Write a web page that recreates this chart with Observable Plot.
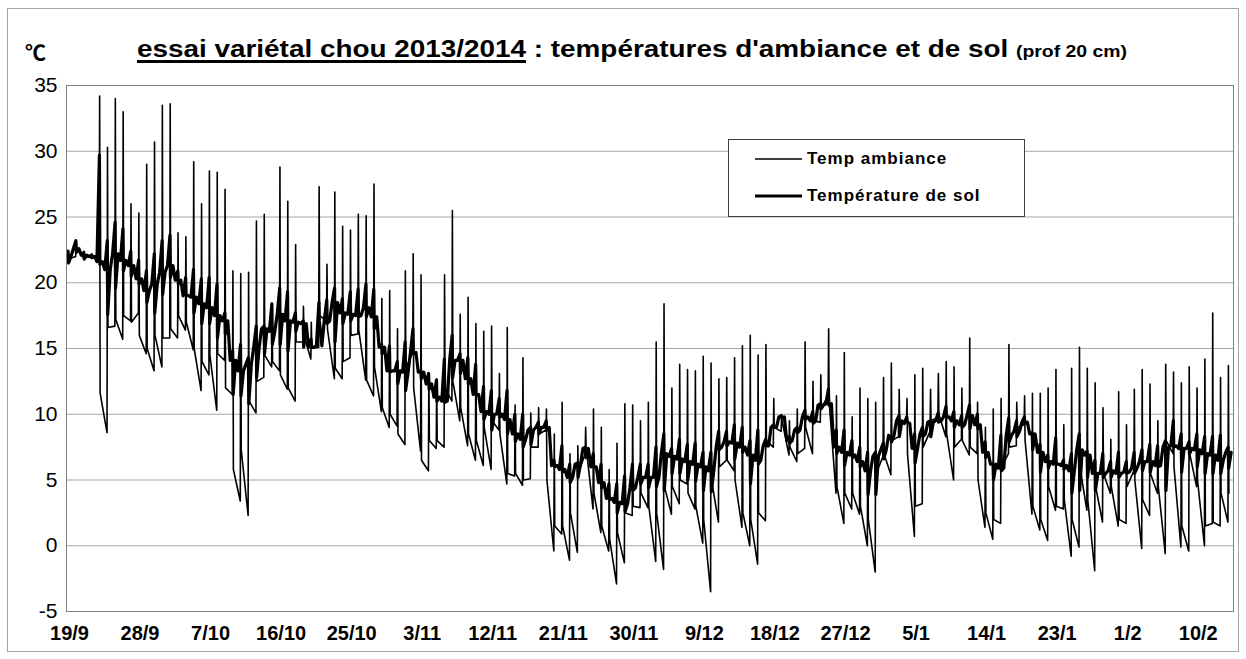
<!DOCTYPE html>
<html><head><meta charset="utf-8">
<script src="https://cdn.jsdelivr.net/npm/d3@7"></script>
<script src="https://cdn.jsdelivr.net/npm/@observablehq/plot@0.6"></script>
<style>
html,body{margin:0;padding:0;background:#fff;}
#wrap{position:relative;width:1246px;height:659px;overflow:hidden;font-family:"Liberation Sans",Arial,sans-serif;}
#border{position:absolute;left:7px;top:8px;width:1232px;height:644px;border:1px solid #a6a6a6;box-sizing:border-box;}
#plot{position:absolute;left:0;top:0;}
#title{position:absolute;left:137px;top:37px;white-space:nowrap;font-weight:bold;font-size:23px;line-height:24px;transform-origin:0 0;}
#title u{text-decoration-thickness:3px;text-underline-offset:3px;}
#title small{font-size:16px;}
#unit{position:absolute;left:25px;top:40px;font-size:21px;font-weight:bold;line-height:22px;font-family:"Noto Sans CJK SC","DejaVu Sans",sans-serif;}
#legend{position:absolute;left:728px;top:139px;width:297px;height:78px;border:1px solid #404040;background:#fff;box-sizing:border-box;}
.lg{position:absolute;left:0;height:20px;display:flex;align-items:center;font-weight:bold;font-size:17px;white-space:nowrap;}
.lg svg{margin-left:26px;margin-right:5px;}
</style></head>
<body>
<div id="wrap">
  <div id="border"></div>
  <div id="plot"></div>
  <div id="title"><u>essai variétal chou 2013/2014</u> : températures d'ambiance et de sol <small>(prof 20 cm)</small></div>
  <div id="unit">℃</div>
  <div id="legend"></div>
</div>
<script>
// day 0 = 19/9/2013 ... day 148 = 14/2/2014
const tickDays   = [0, 9, 18, 27, 36, 45, 54, 63, 72, 81, 90, 99, 108, 117, 126, 135, 144];
const tickLabels = ["19/9","28/9","7/10","16/10","25/10","3/11","12/11","21/11","30/11","9/12","18/12","27/12","5/1","14/1","23/1","1/2","10/2"];
const yTicks = [-5, 0, 5, 10, 15, 20, 25, 30, 35];

// Temp ambiance : daily low, daily high, value after the afternoon drop
const ambMin = [21.6,22.0,21.9,21.9,
 22.0,8.6,16.7,15.7,17.1,17.7,
 14.6,13.3,13.6,15.8,15.8,16.4,14.9,11.8,13.0,10.3,
 14.1,11.5,3.4,2.3,10.1,12.8,13.6,13.3,11.9,11.0,
 15.5,14.2,15.1,17.1,12.7,12.7,14.3,16.1,12.6,11.4,
 10.2,9.0,9.1,7.7,14.7,7.2,5.7,7.4,7.5,11.0,
 9.5,7.6,6.5,6.1,5.8,8.8,4.7,5.3,4.6,5.1,
 7.5,8.8,-0.4,0.9,-1.1,-0.5,7.0,2.8,1.0,-0.4,
 -2.9,-1.3,2.3,2.9,2.9,-1.2,-1.8,2.4,3.2,4.7,
 2.8,0.2,-3.5,1.8,6.5,5.7,1.4,0.0,-1.4,1.9,
 7.5,8.7,6.9,6.4,7.4,7.0,9.4,11.4,4.0,1.7,
 2.8,2.4,0.0,-2.0,6.8,5.4,8.3,9.5,0.7,3.2,
 8.7,9.8,8.3,5.0,8.1,6.9,7.0,1.4,0.5,1.7,
 7.0,7.6,9.2,2.4,1.2,0.4,2.7,2.8,-0.8,-0.1,
 2.7,-1.9,1.8,4.0,1.5,1.7,5.7,-0.2,2.3,4.0,
 -0.6,7.0,-0.1,-0.4,4.5,0.0,1.7,1.5,1.8];
const ambMax = [22.3,23.2,22.4,22.2,
 34.2,30.3,34.0,33.0,26.0,25.3,
 29.0,30.7,33.5,33.6,23.8,23.5,29.2,26.0,28.5,28.4,
 27.1,20.9,20.7,20.8,24.7,25.2,18.4,28.8,26.2,22.9,
 18.2,17.0,27.3,21.4,26.9,24.3,24.0,25.2,25.1,27.5,
 18.8,19.4,16.5,20.9,22.2,20.6,13.1,12.7,20.6,25.5,
 17.6,18.9,16.9,16.3,16.7,13.1,16.6,10.7,14.3,10.1,
 10.5,10.4,8.5,10.9,7.0,7.6,9.0,10.4,9.0,5.8,
 7.8,10.8,10.7,9.5,10.9,15.5,18.4,12.0,13.8,13.4,
 13.3,14.4,13.9,12.7,12.8,14.3,15.2,16.0,14.5,15.3,
 11.2,9.8,9.5,10.4,15.5,12.5,13.0,16.5,11.4,14.7,
 9.8,12.0,11.2,10.9,12.8,13.9,11.9,11.2,13.0,13.5,
 11.9,13.1,14.0,13.6,12.0,15.8,10.9,9.0,10.4,11.2,
 15.3,10.9,11.4,11.6,11.6,12.0,13.4,9.2,13.5,15.1,
 13.5,12.4,10.5,8.1,11.7,9.2,11.9,13.4,12.3,9.5,
 13.8,13.2,12.4,13.6,12.0,14.2,17.7,12.8,13.7];
const ambEve = [21.8,22.6,22.0,22.0,
 11.6,16.6,17.2,17.5,17.0,16.0,
 15.0,16.0,15.8,16.5,17.5,17.0,15.0,14.0,14.5,14.6,
 12.0,5.8,7.3,11.0,12.5,14.5,14.0,13.0,12.0,15.5,
 16.0,15.0,17.5,16.5,13.5,14.0,16.0,16.4,12.6,13.6,
 10.5,10.0,8.5,13.5,12.0,6.5,8.0,8.0,12.0,12.5,
 10.5,8.5,8.0,9.0,9.5,8.5,5.5,5.5,5.0,7.5,
 8.5,5.0,1.5,1.5,2.5,5.5,7.5,4.0,1.5,0.5,
 1.0,2.5,3.0,4.0,3.0,2.5,4.5,4.5,5.0,4.0,
 3.0,2.0,5.0,6.0,6.5,5.0,2.5,2.0,2.5,8.0,
 9.0,9.5,7.5,7.0,9.0,9.5,10.5,11.0,4.5,4.0,
 4.0,3.0,2.0,5.5,7.0,8.0,9.5,7.0,3.0,7.5,
 9.5,10.0,8.5,7.5,8.0,7.5,5.0,2.5,2.0,6.0,
 7.5,9.0,8.0,3.0,2.0,4.5,3.0,3.5,2.0,6.0,
 3.5,4.5,5.5,4.5,2.0,4.5,5.0,3.5,5.5,4.5,
 8.0,6.0,1.5,7.0,5.0,1.5,1.8,4.0,4.0];

// Température de sol : daily level, daily high, daily low
const solBase = [22.0,22.6,22.1,22.0,21.6,21.0,22.2,21.7,21.3,20.3,
 19.4,19.9,20.8,21.3,20.2,19.0,18.9,18.4,18.1,17.5,
 17.1,14.1,13.3,13.8,15.1,16.5,16.3,17.6,17.1,17.0,
 16.9,15.1,15.2,17.1,18.5,17.7,17.6,17.5,18.1,17.4,
 15.1,13.3,13.3,13.2,14.7,13.2,12.3,11.3,11.0,14.1,
 14.1,12.7,11.5,10.2,10.0,10.0,9.6,8.5,8.1,8.8,
 9.0,9.0,6.1,5.8,5.2,6.2,7.4,6.0,4.8,3.6,
 3.3,3.2,4.4,5.2,5.2,5.2,7.0,6.8,6.6,6.4,
 6.2,6.0,5.7,7.5,7.9,7.8,7.5,6.9,6.5,7.6,
 9.0,9.8,8.0,8.8,9.8,9.5,10.7,10.8,7.5,7.1,
 6.9,6.4,5.7,6.8,7.3,8.4,9.5,9.3,7.4,8.5,
 9.4,9.5,9.8,9.5,9.2,9.9,9.2,7.1,6.2,5.9,
 8.4,8.7,9.4,8.5,7.1,6.4,6.2,6.1,5.7,7.3,
 6.9,5.5,5.5,5.7,5.5,5.6,5.9,6.4,6.4,6.1,
 7.5,7.6,7.4,7.4,7.3,7.0,6.9,6.5,7.1];
const solHi = [22.4,23.2,22.3,22.1,29.7,23.2,24.6,24.1,22.4,21.7,
 20.9,22.2,23.2,23.6,20.9,20.4,21.0,20.3,20.4,19.9,
 17.7,14.8,15.3,14.3,16.7,16.7,18.4,19.6,19.3,17.7,
 17.1,15.7,18.5,18.7,19.6,18.8,19.3,19.5,19.9,19.5,
 15.3,15.2,14.0,15.5,16.5,13.3,13.1,12.6,14.2,16.0,
 14.6,14.3,13.8,12.1,11.8,11.2,11.8,10.0,10.0,9.0,
 9.4,9.5,6.5,7.6,6.2,6.3,7.5,7.0,6.2,4.7,
 4.7,5.3,6.2,6.2,6.2,7.5,8.5,7.4,8.1,7.7,
 7.8,7.1,7.1,8.7,8.7,9.2,9.0,8.0,8.8,8.1,
 9.2,9.9,8.3,9.0,10.3,10.2,10.8,11.9,8.8,8.8,
 8.0,7.5,7.1,7.1,7.8,8.1,9.9,9.8,8.5,9.0,
 9.5,10.1,10.6,10.2,9.9,10.7,10.0,7.9,6.2,8.4,
 9.7,9.5,9.8,8.6,7.7,6.9,8.2,6.5,7.0,8.5,
 7.2,6.5,7.0,6.4,7.1,6.4,7.1,7.3,7.7,7.6,
 8.0,9.5,8.5,7.9,8.5,8.3,8.3,8.4,7.5];
const solLo = [21.5,22.3,21.8,21.9,21.4,17.6,19.6,20.9,20.5,19.9,
 18.5,17.7,19.1,20.4,19.9,19.1,17.7,16.9,16.9,15.8,
 16.1,11.5,11.4,10.8,12.8,14.6,15.3,15.3,14.8,16.3,
 15.1,15.1,17.1,16.9,15.5,16.9,17.1,17.4,17.4,16.5,
 14.6,13.2,12.3,11.8,14.6,12.7,11.9,11.0,10.9,12.8,
 13.1,12.3,11.5,9.6,8.8,9.8,8.5,7.9,7.5,7.7,
 8.5,8.8,6.0,5.6,4.8,5.2,6.7,6.0,4.4,3.5,
 2.5,2.6,4.2,4.7,4.4,4.5,4.2,5.5,5.5,5.0,
 4.9,4.2,4.1,7.3,7.6,6.6,7.1,4.7,6.2,7.6,
 9.0,9.7,7.8,8.6,9.6,9.3,10.4,10.7,7.0,6.1,
 6.7,6.0,3.9,3.9,6.6,7.9,8.3,9.4,6.3,8.3,
 8.3,9.4,9.8,9.0,9.0,8.9,8.9,6.7,5.0,5.7,
 7.9,8.3,9.3,7.3,5.6,5.9,6.2,5.8,4.0,4.2,
 5.2,4.2,5.2,5.2,5.2,5.5,5.5,5.7,5.6,6.0,
 4.2,7.5,5.6,7.0,6.0,5.5,5.5,5.5,5.9];

const sp = -0.15; // time of day of the afternoon peak, in days
const amb = [], sol = [];
ambMax.forEach((v, d) => {
  amb.push({t: d + sp - 0.06, v: ambMin[d]});
  amb.push({t: d + sp, v: v});
  amb.push({t: d + sp + 0.06, v: ambEve[d]});
  sol.push({t: d + sp - 0.35, v: solBase[d]});
  sol.push({t: d + sp - 0.03, v: solHi[d]});
  sol.push({t: d + sp + 0.03, v: solLo[d]});
  sol.push({t: d + sp + 0.35, v: solBase[d]});
});

const chart = Plot.plot({
  width: 1246, height: 659,
  marginTop: 85, marginBottom: 48, marginLeft: 66, marginRight: 13,
  x: {domain: [-0.38, 148.5]},
  y: {domain: [-5, 35]},
  style: {fontFamily: "'Liberation Sans', Arial, sans-serif", color: "#000", background: "transparent", overflow: "visible"},
  marks: [
    Plot.ruleY(yTicks.filter(v => v > -5 && v < 35), {stroke: "#a6a6a6", strokeWidth: 1}),
    Plot.line(amb, {x: "t", y: "v", stroke: "#000", strokeWidth: 1.6, clip: true}),
    Plot.line(sol, {x: "t", y: "v", stroke: "#000", strokeWidth: 3.2, clip: true}),
    Plot.frame({stroke: "#808080", strokeWidth: 1}),
    Plot.axisY({ticks: yTicks, tickFormat: d => String(d), tickSize: 0, tickPadding: 9, fontSize: 21, label: null}),
    Plot.axisX({ticks: tickDays, tickFormat: d => tickLabels[tickDays.indexOf(d)], tickSize: 0, tickPadding: 14, fontSize: 20, fontWeight: "bold", label: null})
  ]
});
document.getElementById("plot").appendChild(chart);

// legend
const lg = document.getElementById("legend");
[["Temp ambiance", 1.6, 9], ["Température de sol", 3.2, 46]].forEach(([txt, w, top]) => {
  const row = document.createElement("div");
  row.className = "lg";
  row.style.top = top + "px";
  row.innerHTML = `<svg width="47" height="10"><line x1="0" x2="47" y1="5" y2="5" stroke="#000" stroke-width="${w}"/></svg><span style="letter-spacing:1px">${txt}</span>`;
  lg.appendChild(row);
});

// fit the title to the reference width
const title = document.getElementById("title");
const tw = title.getBoundingClientRect().width;
title.style.transform = `scaleX(${990 / tw})`;
</script>
</body></html>
